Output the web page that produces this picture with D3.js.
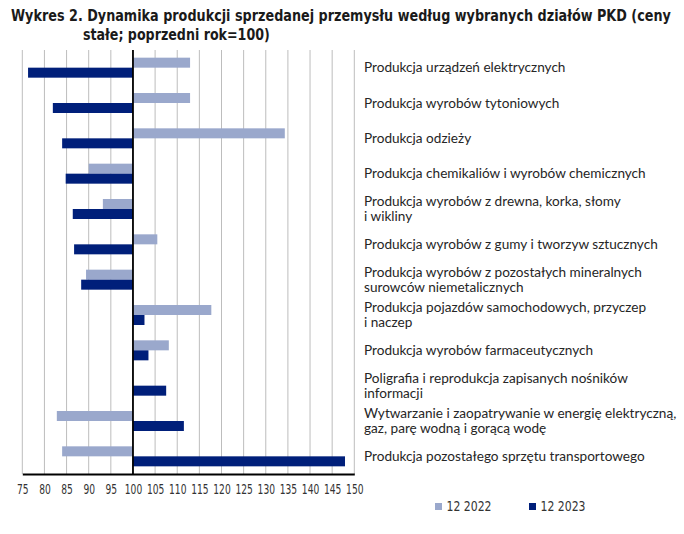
<!DOCTYPE html>
<html>
<head>
<meta charset="utf-8">
<script src="https://cdn.jsdelivr.net/npm/d3@7"></script>
<style>
  body { margin: 0; background: #fff; }
  svg { display: block; }
</style>
</head>
<body>
<figure style="margin:0"></figure>
<script>
// data
const categories = [
  ['Produkcja urządzeń elektrycznych'],
  ['Produkcja wyrobów tytoniowych'],
  ['Produkcja odzieży'],
  ['Produkcja chemikaliów i wyrobów chemicznych'],
  ['Produkcja wyrobów z drewna, korka, słomy', 'i wikliny'],
  ['Produkcja wyrobów z gumy i tworzyw sztucznych'],
  ['Produkcja wyrobów z pozostałych mineralnych', 'surowców niemetalicznych'],
  ['Produkcja pojazdów samochodowych, przyczep', 'i naczep'],
  ['Produkcja wyrobów farmaceutycznych'],
  ['Poligrafia i reprodukcja zapisanych nośników', 'informacji'],
  ['Wytwarzanie i zaopatrywanie w energię elektryczną,', 'gaz, parę wodną i gorącą wodę'],
  ['Produkcja pozostałego sprzętu transportowego']
];
const values2022 = [112.9, 112.9, 134.3, 90.0, 93.2, 105.5, 89.4, 117.7, 108.1, 100.0, 82.8, 84.0];
const values2023 = [76.3, 81.9, 84.0, 84.8, 86.4, 86.7, 88.3, 102.6, 103.5, 107.5, 111.5, 147.9];
const seriesNames = ['12 2022', '12 2023'];
const xTicks = d3.range(75, 151, 5);
const titleLines = [
  'Wykres 2. Dynamika produkcji sprzedanej przemysłu według wybranych działów PKD (ceny',
  'stałe; poprzedni rok=100)'
];

(() => {
  const width = 684;
  const height = 534;
  const colors = ['#9aa8cc', '#001f7a'];
  const narrow = '"Liberation Sans Narrow", "DejaVu Sans Condensed", sans-serif';

  const svg = d3.select('figure').append('svg')
    .attr('width', width)
    .attr('height', height);

  const x = d3.scaleLinear().domain([75, 150]).range([22.3, 354.3]);
  const y = d3.scaleBand().domain(d3.range(categories.length)).range([50, 474]);
  const barH = 10;

  // title: squeeze each line horizontally to the width seen in the picture
  const titlePos = [{x: 11, y: 21, w: 660}, {x: 83, y: 39.5, w: 187}];
  titleLines.forEach((t, i) => {
    const p = titlePos[i];
    const txt = svg.append('text')
      .attr('font-family', narrow).attr('font-weight', 'bold')
      .attr('font-size', 15).attr('fill', '#1a1a1a')
      .text(t);
    const k = p.w / txt.node().getComputedTextLength();
    txt.attr('transform', `translate(${p.x},${p.y}) scale(${k},1)`);
  });

  // gridlines
  svg.append('g')
    .selectAll('line')
    .data(xTicks)
    .join('line')
      .attr('x1', d => x(d)).attr('x2', d => x(d))
      .attr('y1', 50).attr('y2', 474)
      .attr('stroke', '#bdbdbd').attr('stroke-width', 1);

  // bars
  const rows = categories.map((c, i) => ({i, v: [values2022[i], values2023[i]]}));
  const bars = svg.append('g');
  [0, 1].forEach(s => {
    bars.selectAll('rect.s' + s)
      .data(rows)
      .join('rect')
        .attr('class', 's' + s)
        .attr('x', d => x(Math.min(100, d.v[s])))
        .attr('width', d => Math.abs(x(d.v[s]) - x(100)))
        .attr('y', d => y(d.i) + y.bandwidth() / 2 - barH + s * barH)
        .attr('height', barH)
        .attr('fill', colors[s]);
  });

  // 100 baseline
  svg.append('line')
    .attr('x1', x(100)).attr('x2', x(100))
    .attr('y1', 50).attr('y2', 474)
    .attr('stroke', '#000').attr('stroke-width', 1.8);

  // x axis
  const axis = svg.append('g')
    .attr('transform', 'translate(0,474)')
    .call(d3.axisBottom(x).tickValues(xTicks).tickSize(0).tickPadding(11));
  axis.select('.domain').attr('stroke', '#000').attr('stroke-width', 1.8);
  axis.selectAll('text')
    .attr('font-family', narrow)
    .attr('font-size', 13.2).attr('fill', '#333')
    .attr('textLength', d => String(d).length * 5.8)
    .attr('lengthAdjust', 'spacingAndGlyphs');

  // category labels
  const lineH = 15;
  svg.append('g')
    .selectAll('text')
    .data(categories)
    .join('text')
      .attr('x', 364)
      .attr('y', (d, i) => y(i) + y.bandwidth() / 2 + 4.5 - (d.length - 1) * lineH / 2)
      .attr('font-family', 'Lato, "Noto Sans", sans-serif')
      .attr('font-size', 13.6).attr('fill', '#262626')
      .each(function(d) {
        d3.select(this).selectAll('tspan')
          .data(d)
          .join('tspan')
            .attr('x', 364)
            .attr('dy', (t, j) => j === 0 ? 0 : lineH)
            .text(t => t);
      });

  // legend
  const legend = svg.append('g')
    .selectAll('g')
    .data(seriesNames)
    .join('g')
      .attr('transform', (d, i) => `translate(${435 + i * 94},503)`);
  legend.append('rect')
    .attr('width', 7).attr('height', 7)
    .attr('fill', (d, i) => colors[i]);
  legend.append('text')
    .attr('x', 11.5).attr('y', 8)
    .attr('font-family', narrow)
    .attr('font-size', 14).attr('fill', '#333')
    .attr('textLength', 45).attr('lengthAdjust', 'spacingAndGlyphs')
    .text(d => d);
})();
</script>
</body>
</html>
